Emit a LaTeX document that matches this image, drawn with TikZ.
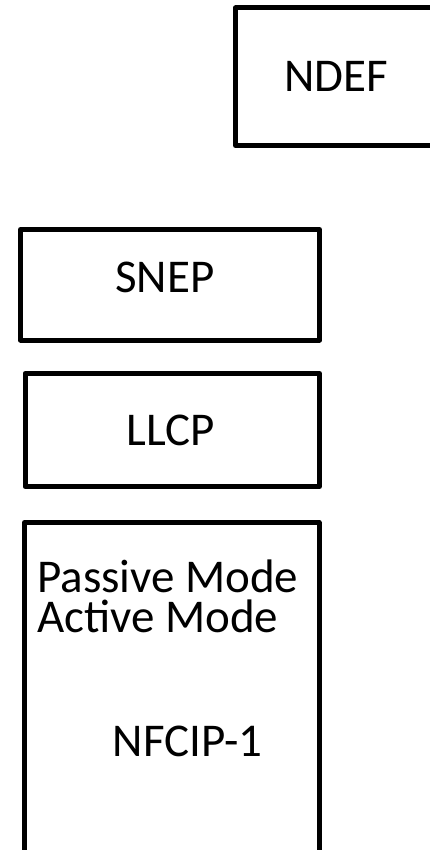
\documentclass[tikz,border=0pt]{standalone}
\usepackage{fontspec}
\setmainfont{Carlito}
\begin{document}
\begin{tikzpicture}[x=1pt,y=-1pt,
  layerbox/.style={draw=black, line width=5pt, line join=round, inner sep=0pt},
  lbl/.style={inner sep=0pt, font=\fontsize{47}{40}\selectfont}]
\useasboundingbox (0,0) rectangle (430,850);
\clip (0,0) rectangle (430,850);
% boxes
\draw[layerbox] (235.5,8) rectangle (437,145.5);
\draw[layerbox] (20.5,229.5) rectangle (319.5,340);
\draw[layerbox] (25,373.5) rectangle (319.5,486.5);
\draw[layerbox] (24.5,522.5) rectangle (319,880);
% labels
\node[lbl, anchor=base] (ndef) at (336,92) {NDEF};
\node[lbl, anchor=base] (snep) at (165,292) {SNEP};
\node[lbl, anchor=base] (llcp) at (170.5,445) {LLCP};
\node[lbl, anchor=base west, align=left] (modes) at (37,632) {Passive Mode\\Active Mode};
\node[lbl, anchor=base] (nfcip) at (187.5,756) {NFCIP-1};
\end{tikzpicture}
\end{document}
